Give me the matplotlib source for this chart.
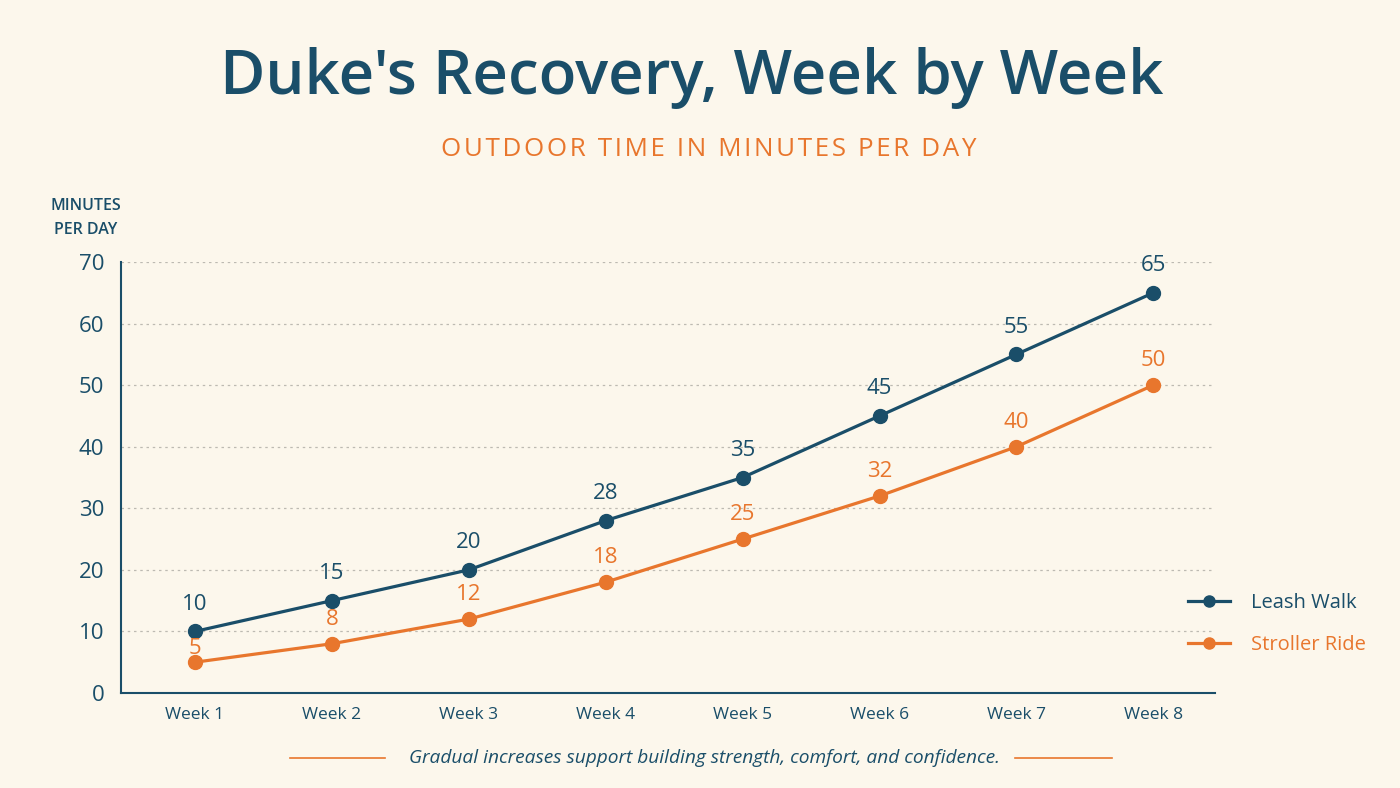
import matplotlib
matplotlib.use("Agg")
import matplotlib.pyplot as plt
from matplotlib.lines import Line2D

weeks = ["Week 1", "Week 2", "Week 3", "Week 4", "Week 5", "Week 6", "Week 7", "Week 8"]
leash_walk = [10, 15, 20, 28, 35, 45, 55, 65]
stroller_ride = [5, 8, 12, 18, 25, 32, 40, 50]
y_ticks = [0, 10, 20, 30, 40, 50, 60, 70]

BG = "#fcf7ec"
TEAL = "#1a4e69"
ORANGE = "#e8762d"
FONT = "Open Sans"

plt.rcParams['font.family'] = [FONT, 'DejaVu Sans']

fig = plt.figure(figsize=(14, 7.88), dpi=100, facecolor=BG)
ax = fig.add_axes([121/1400, 1-693/788, (1215-121)/1400, (693-262)/788])
ax.set_facecolor(BG)

x = list(range(len(weeks)))
ax.plot(x, leash_walk, color=TEAL, lw=2.3, marker='o', ms=10, zorder=3)
ax.plot(x, stroller_ride, color=ORANGE, lw=2.3, marker='o', ms=10, zorder=3)

for xi, v in zip(x, leash_walk):
    ax.annotate(str(v), (xi, v), xytext=(0, 12), textcoords='offset points',
                ha='center', va='bottom', fontsize=16, color=TEAL)
for xi, v in zip(x, stroller_ride):
    off = 2 if xi == 0 else 10
    ax.annotate(str(v), (xi, v), xytext=(0, off), textcoords='offset points',
                ha='center', va='bottom', fontsize=16, color=ORANGE)

ax.set_xlim(-0.54, 7.45)
ax.set_ylim(0, 70)
ax.set_yticks(y_ticks)
ax.set_xticks(x)
ax.set_xticklabels(weeks)
ax.tick_params(axis='y', length=0, labelsize=16, labelcolor=TEAL, pad=12)
ax.tick_params(axis='x', length=0, labelsize=12.5, labelcolor=TEAL, pad=10)
for s in ['top', 'right']:
    ax.spines[s].set_visible(False)
for s in ['left', 'bottom']:
    ax.spines[s].set_color(TEAL)
    ax.spines[s].set_linewidth(1.5)
ax.yaxis.grid(True, linestyle=(0, (2, 3)), color='#bdbab2', lw=0.9)
ax.set_axisbelow(True)

fig.text(86/1400, 1-218/788, "MINUTES\nPER DAY", ha='center', va='center',
         fontsize=11.5, color=TEAL, fontweight='semibold', linespacing=1.6)

fig.text(0.494, 1-78/788, "Duke's Recovery, Week by Week", ha='center', va='center',
         fontsize=44.5, color=TEAL, fontweight='semibold')
sub = "OUTDOOR TIME IN MINUTES PER DAY"
sub_spaced = "\u200a".join(sub)
fig.text(0.5065, 1-149/788, sub_spaced, ha='center', va='center', fontsize=18.7, color=ORANGE)

handles = [Line2D([0], [0], color=TEAL, lw=2.3, marker='o', ms=8),
           Line2D([0], [0], color=ORANGE, lw=2.3, marker='o', ms=8)]
leg = fig.legend(handles, ["Leash Walk", "Stroller Ride"], loc='center left',
                 bbox_to_anchor=(1170/1400, 1-624/788), frameon=False,
                 fontsize=14.5, handlelength=2.1, labelspacing=1.1, handletextpad=1.0)
for t, c in zip(leg.get_texts(), [TEAL, ORANGE]):
    t.set_color(c)

fig.text(704/1400, 1-758/788, "Gradual increases support building strength, comfort, and confidence.",
         ha='center', va='center', fontsize=13.8, color=TEAL, style='italic')
fig.add_artist(Line2D([290/1400, 385/1400], [1-758/788]*2, color=ORANGE, lw=1.2))
fig.add_artist(Line2D([1015/1400, 1112/1400], [1-758/788]*2, color=ORANGE, lw=1.2))

fig.savefig("out.png", dpi=100, facecolor=BG)
